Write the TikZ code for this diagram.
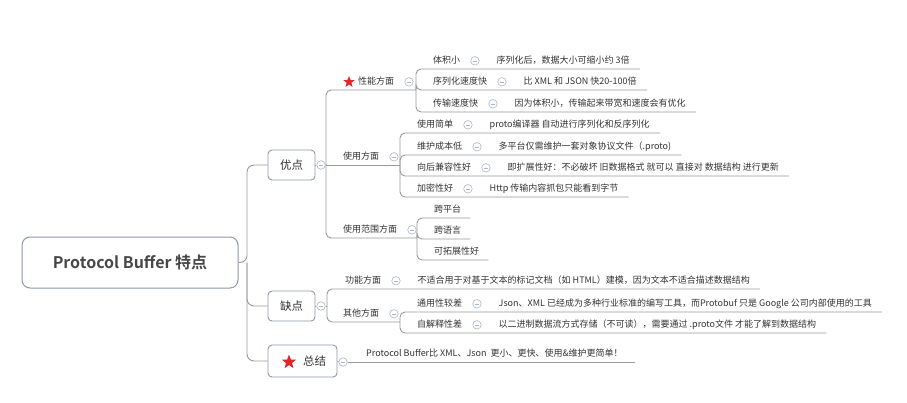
\documentclass[tikz,border=0pt]{standalone}
\usepackage{fontspec}
\setmainfont{Noto Sans CJK SC}[BoldFont={Noto Sans CJK SC Bold}]
\usetikzlibrary{positioning,shapes.geometric}
\definecolor{txt}{HTML}{333333}
\definecolor{linec}{HTML}{9A9A9A}
\definecolor{boxc}{HTML}{8E99AA}
\definecolor{foldc}{HTML}{A9B6CB}
\definecolor{starc}{HTML}{E0262B}
\tikzset{
  conn/.style={draw=linec, line width=0.9pt, rounded corners=5pt},
  lbl/.style={anchor=south west, inner sep=0pt, text height=11pt, text depth=5pt, text=txt, font=\fontsize{9}{9}\selectfont},
  fold/.style={circle, draw=foldc, fill=white, line width=0.6pt, inner sep=0pt, minimum size=8.5pt,
    path picture={\draw[foldc, line width=0.6pt] ([xshift=-2pt]path picture bounding box.center) -- ([xshift=2pt]path picture bounding box.center);}},
  topicbox/.style={draw=boxc, fill=white, rounded corners=4pt, line width=0.9pt, inner sep=0pt, minimum width=47pt, minimum height=30pt, text=txt, font=\fontsize{11.5}{12}\selectfont},
  rootbox/.style={draw=boxc, fill=white, rounded corners=8pt, line width=1pt, inner sep=0pt, minimum width=216pt, minimum height=51pt, text=txt!90!white, font=\fontsize{16}{18}\selectfont\bfseries},
  redstar/.style={star, star points=5, star point ratio=2.4, fill=starc, inner sep=0pt, minimum size=#1},
  redstar/.default=12pt
}
\begin{document}
\begin{tikzpicture}[x=1pt,y=-1pt]
\useasboundingbox (0,0) rectangle (907,402);

\node[rootbox] (root) at (130,262.5) {Protocol Buffer 特点};
\node[topicbox] (yd) at (291.5,165) {优点};
\node[topicbox] (qd) at (291.5,306) {缺点};
\node[topicbox, minimum width=69pt, minimum height=32pt] (zj) at (302.5,361) {\hspace{24pt}总结};
\node[redstar=15pt] (zjstar) at (289,362) {};
\node[fold] (ydf) at (321,165) {};
\node[fold] (qdf) at (321,306) {};
\node[fold] (zjf) at (343,362) {};

\coordinate (trunk) at (247,262.5);
\draw[conn, rounded corners=7pt] (root.east) -- (trunk) |- (yd.west);
\draw[conn, rounded corners=7pt] (trunk) |- (qd.west);
\draw[conn, rounded corners=7pt] (trunk) |- (zj.west);
\draw[conn] (yd.east) -- (ydf.west);
\draw[conn] (qd.east) -- (qdf.west);
\draw[conn] (zj.east) -- (zjf.west);

\coordinate (ydJ) at (326,165);
\draw[conn] (ydf.east) -- (ydJ);

\node[redstar] (xnstar) at (349,82) {};
\node[lbl] (xn) at (358,90) {性能方面};
\node[fold, right=10pt of xn] (xnf) {};
\coordinate (xnR) at (416,90);
\draw[conn] (ydJ) |- (xnR);

\node[lbl] (a1) at (433,69) {体积小};
\node[fold, right=10pt of a1] (a1f) {};
\node[lbl, right=17pt of a1f] (a1v) {序列化后，数据大小可缩小约 3倍};
\draw[conn] (xnR) |- ([xshift=10pt]a1v.south east);
\node[lbl] (a2) at (433,90) {序列化速度快};
\node[fold, right=10pt of a2] (a2f) {};
\node[lbl, right=17pt of a2f] (a2v) {比 XML 和 JSON 快20-100倍};
\draw[conn] (xnR) |- ([xshift=10pt]a2v.south east);
\node[lbl] (a3) at (433,112) {传输速度快};
\node[fold, right=10pt of a3] (a3f) {};
\node[lbl, right=17pt of a3f] (a3v) {因为体积小，传输起来带宽和速度会有优化};
\draw[conn] (xnR) |- ([xshift=10pt]a3v.south east);

\node[lbl] (sy) at (343,165) {使用方面};
\node[fold, right=10pt of sy] (syf) {};
\coordinate (syR) at (400,165);
\draw[conn] (ydJ) -- (syR);

\node[lbl] (b1) at (417,133) {使用简单};
\node[fold, right=10pt of b1] (b1f) {};
\node[lbl, right=17pt of b1f] (b1v) {proto编译器 自动进行序列化和反序列化};
\draw[conn] (syR) |- ([xshift=10pt]b1v.south east);
\node[lbl] (b2) at (417,155) {维护成本低};
\node[fold, right=10pt of b2] (b2f) {};
\node[lbl, right=17pt of b2f] (b2v) {多平台仅需维护一套对象协议文件（.proto)};
\draw[conn] (syR) |- ([xshift=10pt]b2v.south east);
\node[lbl] (b3) at (417,176) {向后兼容性好};
\node[fold, right=10pt of b3] (b3f) {};
\node[lbl, right=17pt of b3f] (b3v) {即扩展性好：不必破坏 旧数据格式 就可以 直接对 数据结构 进行更新};
\draw[conn] (syR) |- ([xshift=10pt]b3v.south east);
\node[lbl] (b4) at (417,197) {加密性好};
\node[fold, right=10pt of b4] (b4f) {};
\node[lbl, right=17pt of b4f] (b4v) {Http 传输内容抓包只能看到字节};
\draw[conn] (syR) |- ([xshift=10pt]b4v.south east);

\node[lbl] (fw) at (343,238) {使用范围方面};
\node[fold, right=10pt of fw] (fwf) {};
\coordinate (fwR) at (417,238);
\draw[conn] (ydJ) |- (fwR);

\node[lbl] (c1) at (434,218) {跨平台};
\draw[conn] (fwR) |- ([xshift=9pt]c1.south east);
\node[lbl] (c2) at (434,239) {跨语言};
\draw[conn] (fwR) |- ([xshift=9pt]c2.south east);
\node[lbl] (c3) at (434,260) {可拓展性好};
\draw[conn] (fwR) |- ([xshift=9pt]c3.south east);

\coordinate (qdJ) at (327,306);
\draw[conn] (qdf.east) -- (qdJ);

\node[lbl] (gn) at (345,289) {功能方面};
\node[fold, right=10pt of gn] (gnf) {};
\node[lbl, right=17pt of gnf] (gnv) {不适合用于对基于文本的标记文档（如 HTML）建模，因为文本不适合描述数据结构};
\draw[conn] (qdJ) |- ([xshift=10pt]gnv.south east);

\node[lbl] (qt) at (343,322) {其他方面};
\node[fold, right=10pt of qt] (qtf) {};
\coordinate (qtR) at (400,322);
\draw[conn] (qdJ) |- (qtR);

\node[lbl] (d1) at (417,312) {通用性较差};
\node[fold, right=10pt of d1] (d1f) {};
\node[lbl, right=17pt of d1f] (d1v) {Json、XML 已经成为多种行业标准的编写工具，而Protobuf 只是 Google 公司内部使用的工具};
\draw[conn] (qtR) |- ([xshift=10pt]d1v.south east);
\node[lbl] (d2) at (417,333) {自解释性差};
\node[fold, right=10pt of d2] (d2f) {};
\node[lbl, right=17pt of d2f] (d2v) {以二进制数据流方式存储（不可读），需要通过 .proto文件 才能了解到数据结构};
\draw[conn] (qtR) |- ([xshift=10pt]d2v.south east);

\node[lbl] (zjv) at (366,362) {Protocol Buffer比 XML、Json~~更小、更快、使用\&维护更简单！};
\draw[conn] (zjf.east) -- ([xshift=12pt]zjv.south east);
\end{tikzpicture}
\end{document}
